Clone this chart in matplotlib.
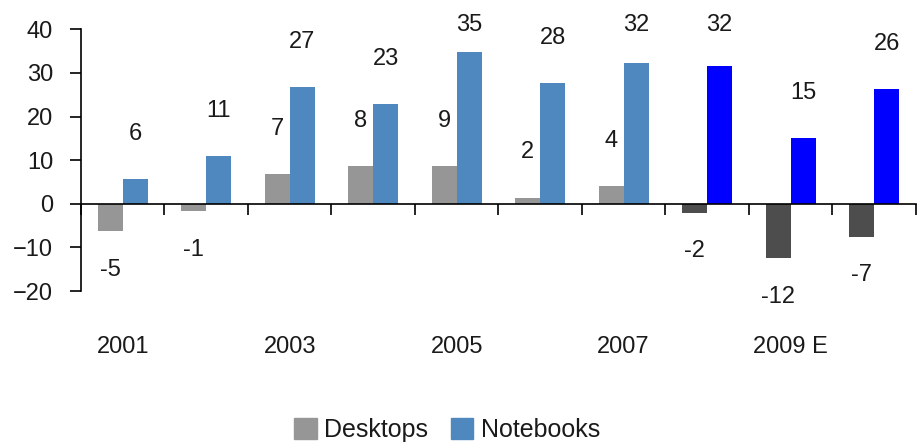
import matplotlib
matplotlib.use("Agg")
import matplotlib.pyplot as plt
from matplotlib.patches import Patch
import numpy as np

plt.rcParams['font.family'] = ['Liberation Sans', 'DejaVu Sans']

years = ["2001", "2002", "2003", "2004", "2005", "2006", "2007", "2008", "2009", "2010"]
year_labels = ["2001", "", "2003", "", "2005", "", "2007", "", "2009 E", ""]
desktops = [-6.3, -1.7, 6.8, 8.6, 8.6, 1.4, 4.1, -2.0, -12.5, -7.5]
notebooks = [5.6, 10.9, 26.8, 22.9, 34.7, 27.6, 32.2, 31.6, 15.1, 26.3]
desktop_labels = ["-5", "-1", "7", "8", "9", "2", "4", "-2", "-12", "-7"]
notebook_labels = ["6", "11", "27", "23", "35", "28", "32", "32", "15", "26"]
n_actual = 7  # first 7 years actual, rest forecast

c_desk = "#969696"
c_desk_f = "#4d4d4d"
c_note = "#4f88bf"
c_note_f = "#0000ff"

fig = plt.figure(figsize=(9.2, 4.45), dpi=100)
ax = fig.add_axes([0.088, 0.346, 0.9075, 0.588])

x = np.arange(len(years))
w = 0.3
dcols = [c_desk if i < n_actual else c_desk_f for i in range(len(years))]
ncols = [c_note if i < n_actual else c_note_f for i in range(len(years))]
ax.bar(x - w / 2, desktops, w, color=dcols, zorder=2)
ax.bar(x + w / 2, notebooks, w, color=ncols, zorder=2)

def label_y(v):
    if v >= 0:
        return min(v + 10.4, 41.0)
    return v - 8.8

fs = 17
tc = '#1a1a1a'
for i in range(len(years)):
    ax.text(x[i] - w / 2, label_y(desktops[i]), desktop_labels[i], ha='center', va='center',
            fontsize=fs, color=tc, clip_on=False)
    ax.text(x[i] + w / 2, label_y(notebooks[i]), notebook_labels[i], ha='center', va='center',
            fontsize=fs, color=tc, clip_on=False)
    if year_labels[i]:
        ax.annotate(year_labels[i], xy=(x[i], 0), xycoords=('data', 'axes fraction'),
                    xytext=(0, -40), textcoords='offset points', ha='center', va='center',
                    fontsize=fs, color=tc)

ax.set_xlim(-0.5, len(years) - 0.5)
ax.set_ylim(-20, 40)
ax.set_yticks([-20, -10, 0, 10, 20, 30, 40])
ax.spines['top'].set_visible(False)
ax.spines['right'].set_visible(False)
ax.spines['bottom'].set_position(('data', 0))
ax.spines['bottom'].set_zorder(3)
ax.spines['left'].set_linewidth(1.2)
ax.spines['bottom'].set_linewidth(1.2)
ax.set_xticks(np.arange(len(years) + 1) - 0.5)
ax.set_xticklabels([])
ax.tick_params(axis='x', direction='out', length=8, width=1.2)
ax.tick_params(axis='y', direction='out', length=8, width=1.2, labelsize=fs, pad=12,
               labelcolor=tc)

handles = [Patch(color=c_desk, label="Desktops"), Patch(color=c_note, label="Notebooks")]
fig.legend(handles=handles, loc='center', bbox_to_anchor=(0.486, 0.034), ncol=2, frameon=False,
           fontsize=18, handlelength=0.9, handleheight=0.9, handletextpad=0.3, columnspacing=0.9,
           labelcolor=tc)

fig.savefig("out.png", dpi=100)
